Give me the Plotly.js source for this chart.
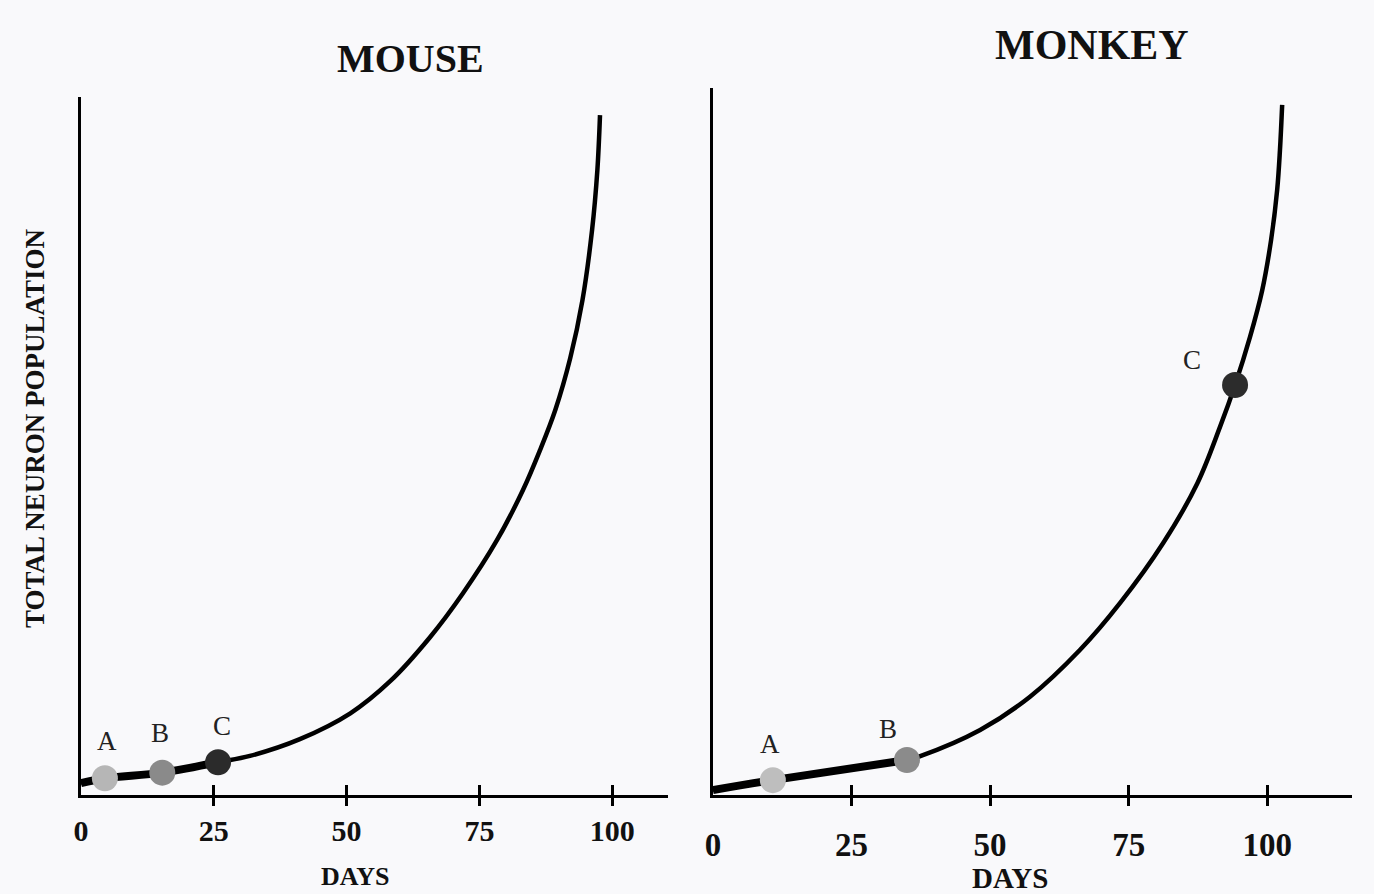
<!DOCTYPE html>
<html>
<head>
<meta charset="utf-8">
<script src="https://cdn.plot.ly/plotly-3.0.1.min.js"></script>
<style>
  html, body { margin: 0; padding: 0; background: #f9f9fb; }
  #chart { width: 1374px; height: 894px; }
</style>
</head>
<body>
<div id="chart"></div>
<script>
// ---- data ----
const dayTicks = [0, 25, 50, 75, 100];
const dayTickText = ['0', '25', '50', '75', '100'];
const markTicks = [25, 50, 75, 100];

const panelTitles = ['MOUSE', 'MONKEY'];
const xTitle = 'DAYS';
const yTitle = 'TOTAL NEURON POPULATION';

const mouseDays = [0, 4.5, 15.3, 25.8, 31.8, 41.2, 50.7, 58.2, 65.7, 71.9, 78.3, 83.2, 86.4, 89.3, 92.1, 94.4, 96.2, 97.2, 97.7];
const mousePop  = [1.7, 2.4, 3.2, 4.7, 5.6, 8.0, 11.7, 16.3, 22.6, 28.9, 36.5, 43.7, 49.4, 55.2, 62.6, 70.9, 80.9, 89.5, 97.4];

const monkeyDays = [0, 10.8, 35.0, 37.4, 48.2, 57.2, 66.2, 73.5, 81.2, 87.4, 91.5, 94.2, 96.9, 99.1, 100.7, 101.8, 102.3, 102.7];
const monkeyPop  = [0.7, 2.1, 4.95, 5.5, 9.2, 13.9, 20.5, 27.2, 35.6, 44.1, 52.1, 58.0, 64.8, 71.4, 78.5, 85.6, 91.2, 97.6];

const stageLabels = ['A', 'B', 'C'];
const mouseStageDays = [4.5, 15.3, 25.8];
const mouseStagePop  = [2.4, 3.2, 4.7];
const monkeyStageDays = [10.8, 35.0, 94.2];
const monkeyStagePop  = [2.1, 4.95, 58.0];

// ---- styles ----
const serif = 'Liberation Serif, Times New Roman, serif';
const ink = '#111111';
const mouseColors = ['#b6b6b6', '#8a8a8a', '#2b2b2b'];
const monkeyColors = ['#bebebe', '#8b8b8b', '#2c2c2c'];

function early(days, pop, limit) {
  const xs = [], ys = [];
  days.forEach((d, i) => { if (d <= limit) { xs.push(d); ys.push(pop[i]); } });
  return { xs, ys };
}
const mouseEarly = early(mouseDays, mousePop, mouseStageDays[2]);
const monkeyEarly = early(monkeyDays, monkeyPop, monkeyStageDays[1]);

const lineStyle = { color: '#000', width: 4.5, shape: 'spline', smoothing: 1 };
const thickStyle = { color: '#000', width: 8, shape: 'spline', smoothing: 1 };

const traces = [
  { x: mouseDays, y: mousePop, xaxis: 'x', yaxis: 'y', mode: 'lines', line: lineStyle, hoverinfo: 'skip' },
  { x: mouseEarly.xs, y: mouseEarly.ys, xaxis: 'x', yaxis: 'y', mode: 'lines', line: thickStyle, hoverinfo: 'skip' },
  { x: mouseStageDays, y: mouseStagePop, xaxis: 'x', yaxis: 'y', mode: 'markers',
    marker: { size: 26, color: mouseColors }, text: stageLabels, hoverinfo: 'text' },
  { x: monkeyDays, y: monkeyPop, xaxis: 'x2', yaxis: 'y2', mode: 'lines', line: lineStyle, hoverinfo: 'skip' },
  { x: monkeyEarly.xs, y: monkeyEarly.ys, xaxis: 'x2', yaxis: 'y2', mode: 'lines', line: thickStyle, hoverinfo: 'skip' },
  { x: monkeyStageDays, y: monkeyStagePop, xaxis: 'x2', yaxis: 'y2', mode: 'markers',
    marker: { size: 26, color: monkeyColors }, text: stageLabels, hoverinfo: 'text' },
  // carriers for the tick-mark overlay axes (invisible)
  { x: mouseDays, y: mousePop, xaxis: 'x3', yaxis: 'y', mode: 'lines', opacity: 0, hoverinfo: 'skip' },
  { x: mouseDays, y: mousePop, xaxis: 'x5', yaxis: 'y', mode: 'lines', opacity: 0, hoverinfo: 'skip' },
  { x: monkeyDays, y: monkeyPop, xaxis: 'x4', yaxis: 'y2', mode: 'lines', opacity: 0, hoverinfo: 'skip' },
  { x: monkeyDays, y: monkeyPop, xaxis: 'x6', yaxis: 'y2', mode: 'lines', opacity: 0, hoverinfo: 'skip' }
];

const W = 1374, H = 894;
const M = { l: 81, r: 22, t: 88, b: 99 };
const PW = W - M.l - M.r, PH = H - M.t - M.b;
const px = v => (v - M.l) / PW;
const py = v => (H - M.b - v) / PH;

const leftDom = [px(81), px(668)];
const rightDom = [px(713), px(1352)];
const leftRange = [0, 110.5];
const rightRange = [0, 115.3];

function mainX(dom, range, fontSize, standoff) {
  return {
    domain: dom, range: range, showline: true, linecolor: '#000', linewidth: 3,
    ticks: '', tickvals: dayTicks, ticktext: dayTickText,
    tickfont: { family: serif, size: fontSize, color: ink, weight: 'bold' },
    ticklabelstandoff: standoff,
    showgrid: false, zeroline: false, fixedrange: true
  };
}
function tickX(dom, range, over, anchor, dir) {
  return {
    domain: dom, range: range, overlaying: over, anchor: anchor, side: 'bottom',
    tickvals: markTicks, ticks: dir, ticklen: 10, tickwidth: 3, tickcolor: '#000',
    showticklabels: false, showline: false, showgrid: false, zeroline: false, fixedrange: true
  };
}
function yAx(dom, anchor) {
  return {
    domain: dom, range: [0, 100], anchor: anchor,
    showline: true, linecolor: '#000', linewidth: 3, ticks: '', showticklabels: false,
    showgrid: false, zeroline: false, fixedrange: true
  };
}

const boldFont = (size) => ({ family: serif, size: size, color: ink, weight: 'bold' });

const layout = {
  width: W, height: H, margin: M,
  paper_bgcolor: '#f9f9fb', plot_bgcolor: 'rgba(0,0,0,0)',
  showlegend: false,
  xaxis: Object.assign(mainX(leftDom, leftRange, 30, 7), { anchor: 'y' }),
  xaxis2: Object.assign(mainX(rightDom, rightRange, 33, 18), { anchor: 'y2' }),
  xaxis3: tickX(leftDom, leftRange, 'x', 'y', 'inside'),
  xaxis5: tickX(leftDom, leftRange, 'x', 'y', 'outside'),
  xaxis4: tickX(rightDom, rightRange, 'x2', 'y2', 'inside'),
  xaxis6: tickX(rightDom, rightRange, 'x2', 'y2', 'outside'),
  yaxis: yAx([py(795), py(97)], 'x'),
  yaxis2: yAx([py(795), py(88)], 'x2'),
  annotations: [
    { xref: 'paper', yref: 'paper', x: px(410), y: py(58), text: panelTitles[0], showarrow: false,
      xanchor: 'center', yanchor: 'middle', font: boldFont(40) },
    { xref: 'paper', yref: 'paper', x: px(1092), y: py(45), text: panelTitles[1], showarrow: false,
      xanchor: 'center', yanchor: 'middle', font: boldFont(42) },
    { xref: 'paper', yref: 'paper', x: px(355), y: py(876), text: xTitle, showarrow: false,
      xanchor: 'center', yanchor: 'middle', font: boldFont(26) },
    { xref: 'paper', yref: 'paper', x: px(1010), y: py(878), text: xTitle, showarrow: false,
      xanchor: 'center', yanchor: 'middle', font: boldFont(29) },
    { xref: 'paper', yref: 'paper', x: px(35), y: py(428), text: yTitle, showarrow: false, textangle: -90,
      xanchor: 'center', yanchor: 'middle', font: boldFont(27) }
  ]
};

const labelFont = { family: serif, size: 27, color: '#222' };
const mouseShifts = [[2, 37], [-2, 40], [4, 36]];
const monkeyShifts = [[-3, 36], [-19, 31], [-43, 25]];
stageLabels.forEach((lab, i) => {
  layout.annotations.push({ xref: 'x', yref: 'y', x: mouseStageDays[i], y: mouseStagePop[i], text: lab,
    showarrow: false, xshift: mouseShifts[i][0], yshift: mouseShifts[i][1], font: labelFont });
  layout.annotations.push({ xref: 'x2', yref: 'y2', x: monkeyStageDays[i], y: monkeyStagePop[i], text: lab,
    showarrow: false, xshift: monkeyShifts[i][0], yshift: monkeyShifts[i][1], font: labelFont });
});

Plotly.newPlot('chart', traces, layout, { displayModeBar: false, staticPlot: true });
</script>
</body>
</html>
